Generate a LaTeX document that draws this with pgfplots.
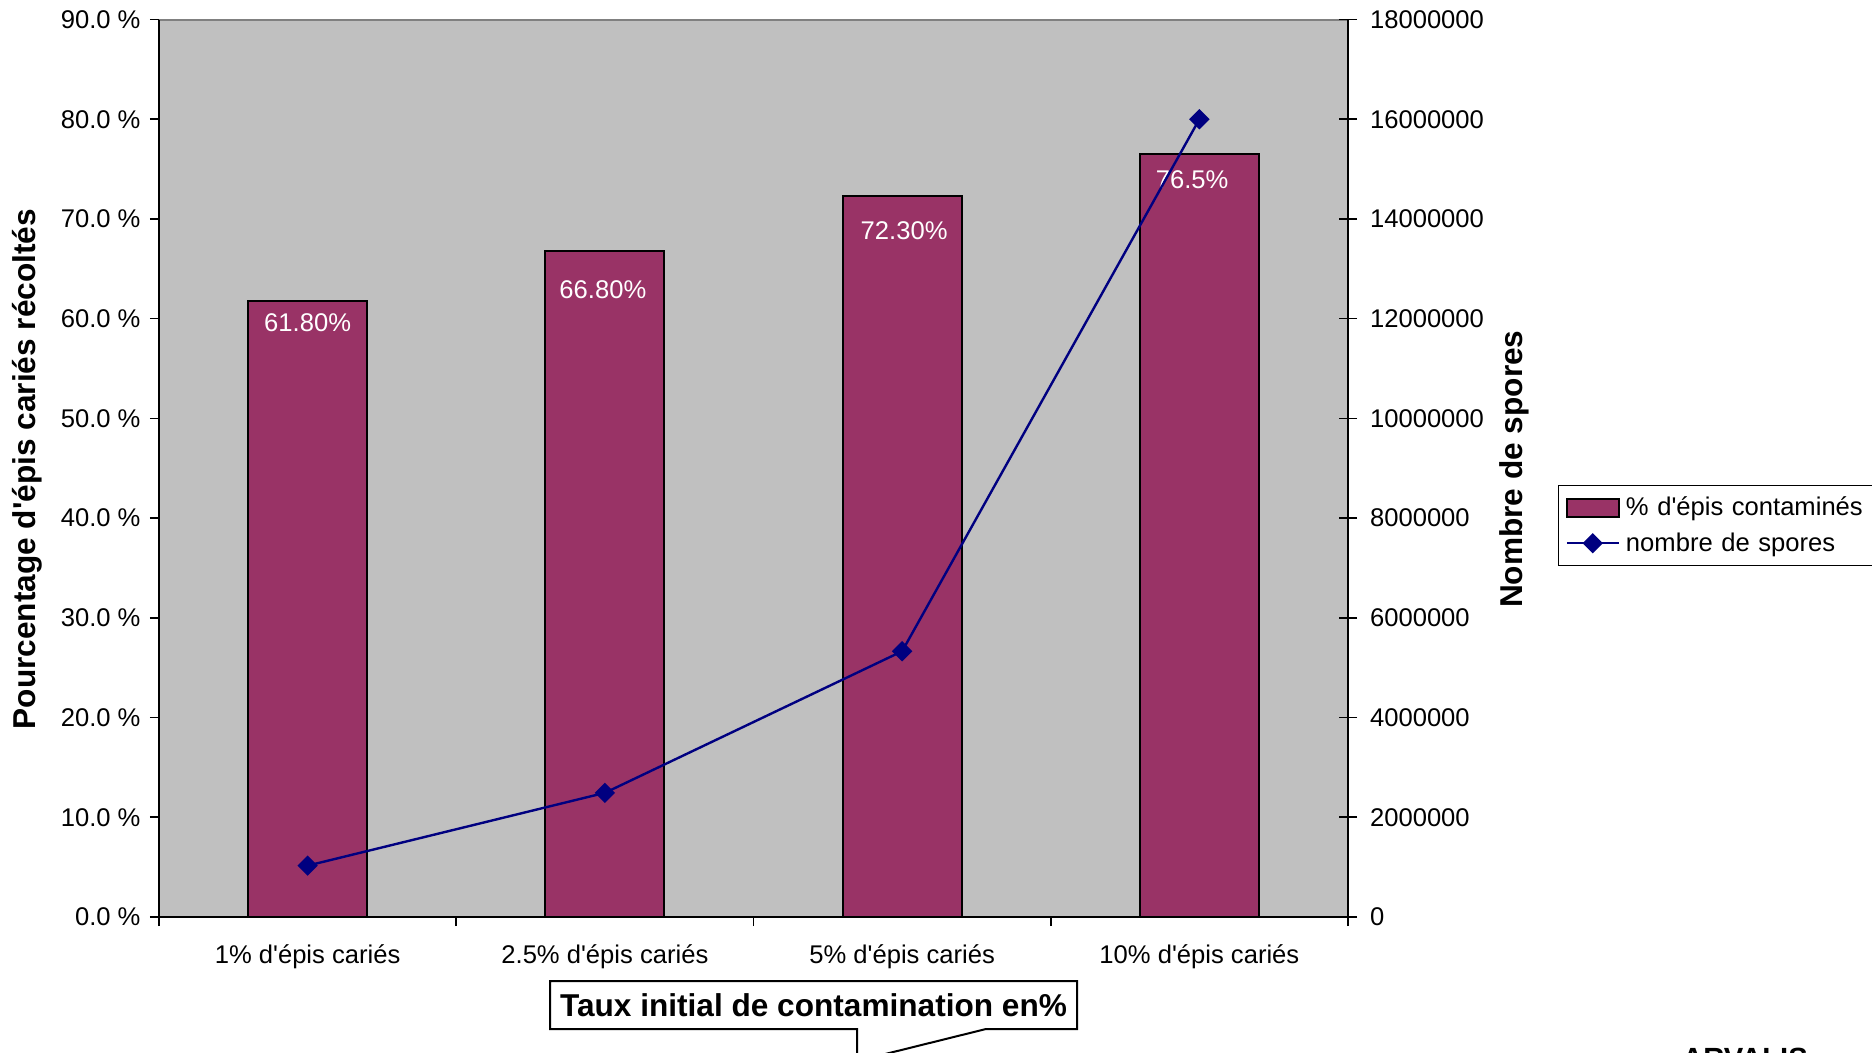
\documentclass[border=0pt]{standalone}
\usepackage{pgfplots}
\pgfplotsset{compat=1.18}
\usepackage{pgfplotstable}
\usepackage{fontspec}
\setmainfont{Liberation Sans}[Ligatures=TeXOff]

\definecolor{plum}{RGB}{153,51,102}
\definecolor{bggray}{RGB}{192,192,192}
\definecolor{framegray}{RGB}{128,128,128}
\definecolor{navyblue}{RGB}{0,0,128}

\newcommand\tickfont{\fontsize{12.8}{15}\selectfont}
\newcommand\labelfont{\bfseries\fontsize{15.8}{18}\selectfont}

\pgfplotsset{
  barlegend/.style={legend image code/.code={\draw[##1] (0pt,-4.5pt) rectangle (26pt,4.5pt);}},
  linelegend/.style={legend image code/.code={\draw[mark repeat=2, mark phase=2, ##1] plot coordinates {(0pt,0pt) (13pt,0pt) (26pt,0pt)};}},
  common/.style={
    at={(79.5pt,-458.5pt)}, anchor=south west,
    scale only axis, width=594.5pt, height=448.75pt,
    xmin=0.5, xmax=4.5,
    tick label style={font=\tickfont},
    /pgf/number format/assume math mode=true,
  },
}

% Percentage of harvested ears with bunt, per initial contamination level
% (dx, dy: placement of the value label inside each bar)
\pgfplotstableread{
x y label dx dy
1 61.8 61.80\% 0 15.4
2 66.8 66.80\% -1 23.7
3 72.3 72.30\% 1 21.9
4 76.5 76.5\% -3.6 17.1
}\barsdata

% Number of spores, per initial contamination level
\pgfplotstableread{
x y
1 1030000
2 2490000
3 5330000
4 16000000
}\sporesdata

\begin{document}
\begin{tikzpicture}
\useasboundingbox (0,0) rectangle (936pt,-526.5pt);
\clip (0,0) rectangle (936pt,-526.5pt);

\begin{axis}[
  common,
  ymin=0, ymax=90,
  axis x line*=bottom, axis y line*=left,
  axis line style={black, line width=1pt},
  axis background/.style={fill=bggray, draw=framegray, line width=1pt},
  xtick={1,2,3,4},
  xticklabels={1\% d'épis cariés, 2.5\% d'épis cariés, 5\% d'épis cariés, 10\% d'épis cariés},
  major x tick style={draw=none},
  minor xtick={0.5,1.5,2.5,3.5,4.5},
  minor x tick style={black, line width=0.8pt},
  minor tick length=4.5pt,
  xtick align=outside,
  xticklabel style={anchor=base, yshift=-18.8pt},
  ytick={0,10,20,30,40,50,60,70,80,90},
  ytick align=outside,
  major tick length=4.5pt,
  major y tick style={black, line width=0.8pt},
  yticklabel={\pgfmathprintnumber[fixed,fixed zerofill,precision=1]{\tick} \%},
  yticklabel style={anchor=east, xshift=-1.2pt},
  ylabel={Pourcentage d'épis cariés récoltés},
  every axis y label/.style={at={(axis description cs:-0.1105,0.499)}, rotate=90, anchor=center, font=\labelfont},
]
\addplot[ybar, bar width=0.4, fill=plum, draw=black, line width=1pt,
  nodes near coords, point meta=explicit symbolic,
  visualization depends on={\thisrow{dx} \as \labdx},
  visualization depends on={\thisrow{dy} \as \labdy},
  nodes near coords style={text=white, font=\tickfont, anchor=base,
    xshift=\labdx pt, yshift=-\labdy pt}]
  table[x=x, y=y, meta=label] {\barsdata};
\end{axis}

\begin{axis}[
  common,
  ymin=0, ymax=18000000,
  axis x line=none, axis y line*=right,
  axis line style={black, line width=1pt},
  ytick={0,2000000,4000000,6000000,8000000,10000000,12000000,14000000,16000000,18000000},
  scaled y ticks=false,
  yticklabel={\pgfmathprintnumber[fixed,precision=0,1000 sep={}]{\tick}},
  ytick align=center,
  major tick length=9pt,
  major y tick style={black, line width=0.8pt},
  yticklabel style={anchor=west, xshift=3pt},
  ylabel={Nombre de spores},
  every axis y label/.style={at={(axis description cs:1.1396,0.499)}, rotate=90, anchor=center, font=\labelfont},
  legend cell align=left,
  legend style={at={(axis description cs:1.1766,0.4813)}, anchor=north west,
    draw=black, line width=0.6pt, font=\tickfont, inner xsep=3.5pt, inner ysep=4pt,
    row sep=3.8pt, column sep=2pt,
    nodes={inner sep=1pt, text height=10pt, text depth=2pt, text width=135pt, align=left}},
]
\addlegendimage{fill=plum, draw=black, line width=1pt, barlegend}
\addlegendentry{\% d'épis contaminés}
\addplot[navyblue, line width=1.2pt, mark=square*, mark size=3pt,
  mark options={rotate=45, fill=navyblue, solid}, linelegend]
  table[x=x, y=y] {\sporesdata};
\addlegendentry{nombre de spores}
\end{axis}

% axis title in a callout box
\draw[fill=white, line width=1pt] (275pt,-490.5pt) -- (538.5pt,-490.5pt) -- (538.5pt,-514.5pt)
  -- (493pt,-514.5pt) -- (428.5pt,-530.5pt) -- (428.5pt,-514.5pt) -- (275pt,-514.5pt) -- cycle;
\node[font=\labelfont] at (406.75pt,-502.5pt) {Taux initial de contamination en\%};

\node[font=\bfseries\fontsize{14.6}{17}\selectfont, anchor=base] at (872.5pt,-534pt) {ARVALIS};
\end{tikzpicture}
\end{document}
